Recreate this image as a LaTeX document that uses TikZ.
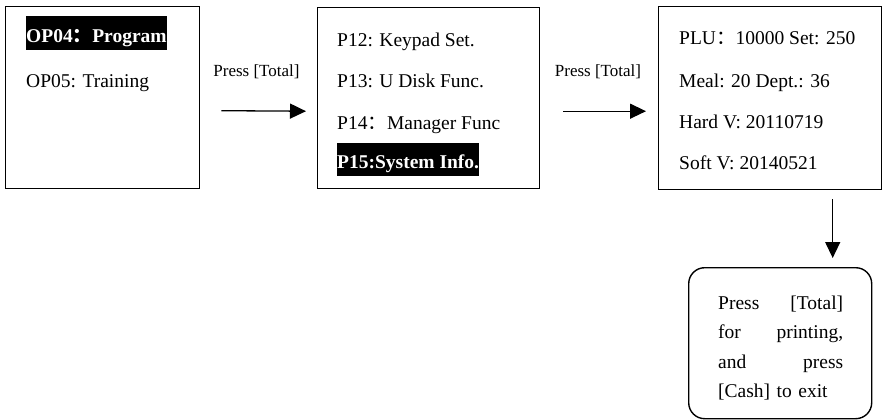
\documentclass[tikz,border=0pt]{standalone}
\usepackage{fontspec}
\setmainfont{Liberation Serif}
\newfontfamily\cjk{Noto Sans CJK SC}
\usetikzlibrary{arrows.meta}
\begin{document}
\begin{tikzpicture}[x=1pt,y=-1pt,
  box/.style={draw, line width=1.4pt, inner sep=0pt, anchor=north west},
  txt/.style={anchor=base west, inner sep=0pt, font=\fontsize{19.5}{23}\selectfont},
  hl/.style={txt, fill=black, text=white, font=\fontsize{19.5}{23}\selectfont\bfseries},
  lab/.style={anchor=base, inner sep=0pt, font=\fontsize{17}{20}\selectfont},
  arr/.style={-{Triangle[length=16pt,width=15pt]}, line width=1.3pt}]
\useasboundingbox (0,0) rectangle (883,420);
% boxes
\node[box, minimum width=194pt, minimum height=182pt] (b1) at (5,6) {};
\node[box, minimum width=222pt, minimum height=181pt] (b2) at (317,7) {};
\node[box, minimum width=223pt, minimum height=183pt] (b3) at (658,6) {};
\node[box, rounded corners=16pt, minimum width=183pt, minimum height=151pt] (b4) at (688,267) {};
% box 1
\node[hl, text height=27pt, text depth=7pt] (t11) at (26,43) {OP04{\cjk ：}Program};
\node[txt] (t12) at (26,87) {OP05: Training};
% box 2
\node[txt] (t21) at (337,47) {P12: Keypad Set.};
\node[txt] (t22) at (337,88) {P13: U Disk Func.};
\node[txt] (t23) at (337,129) {P14{\cjk ：}Manager Func};
\node[hl, text height=25pt, text depth=8pt] (t24) at (337,168) {P15:System Info.};
% box 3
\node[txt] (t31) at (679,45) {PLU{\cjk ：}10000 Set: 250};
\node[txt] (t32) at (679,87) {Meal: 20 Dept.: 36};
\node[txt] (t33) at (679,128) {Hard V: 20110719};
\node[txt] (t34) at (679,169) {Soft V: 20140521};
% box 4 text
\node[txt, text width=125pt, align=left, font=\fontsize{19.5}{29.5}\selectfont] (t4) at (718,309)
  {Press\hfill[Total]\\for\hfill printing,\\and\hfill press\\[0pt][Cash] to exit};
% labels
\node[lab] (l1) at (256.5,77) {Press [Total]};
\node[lab] (l2) at (598,77) {Press [Total]};
% connectors
\draw[arr] ([shift={(21,13)}]b1.east) -- ([shift={(-11,13)}]b2.west);
\draw[arr] ([shift={(23,13)}]b2.east) -- ([shift={(-12,13)}]b3.west);
\coordinate (a3) at ([xshift=62.5pt, yshift=-9pt]b3.south);
\draw[arr] (a3) -- (a3 |- b4.north) [shorten >=9pt];
\end{tikzpicture}
\end{document}
